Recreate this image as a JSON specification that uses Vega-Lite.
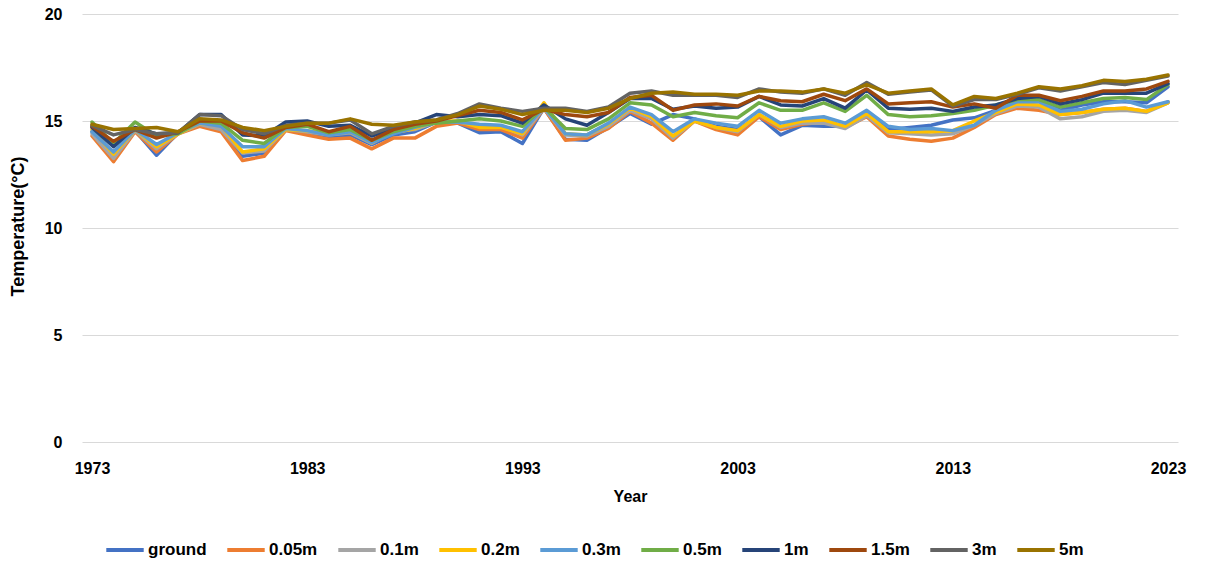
{
"$schema":"https://vega.github.io/schema/vega-lite/v6.json",
"width":1096,"height":428,
"autosize":{"type":"none"},
"padding":{"left":82,"top":14,"right":30,"bottom":137},
"background":"white",
"config":{"view":{"stroke":null},"font":"Liberation Sans"},
"data":{"values":[
{"Year":1973,"Depth":"ground","T":14.5},{"Year":1974,"Depth":"ground","T":13.35},{"Year":1975,"Depth":"ground","T":14.55},{"Year":1976,"Depth":"ground","T":13.4},{"Year":1977,"Depth":"ground","T":14.45},{"Year":1978,"Depth":"ground","T":14.8},{"Year":1979,"Depth":"ground","T":14.7},{"Year":1980,"Depth":"ground","T":13.35},{"Year":1981,"Depth":"ground","T":13.5},{"Year":1982,"Depth":"ground","T":14.6},{"Year":1983,"Depth":"ground","T":14.5},{"Year":1984,"Depth":"ground","T":14.25},{"Year":1985,"Depth":"ground","T":14.35},{"Year":1986,"Depth":"ground","T":13.9},{"Year":1987,"Depth":"ground","T":14.35},{"Year":1988,"Depth":"ground","T":14.5},{"Year":1989,"Depth":"ground","T":14.95},{"Year":1990,"Depth":"ground","T":14.9},{"Year":1991,"Depth":"ground","T":14.45},{"Year":1992,"Depth":"ground","T":14.5},{"Year":1993,"Depth":"ground","T":13.95},{"Year":1994,"Depth":"ground","T":15.6},{"Year":1995,"Depth":"ground","T":14.15},{"Year":1996,"Depth":"ground","T":14.1},{"Year":1997,"Depth":"ground","T":14.7},{"Year":1998,"Depth":"ground","T":15.35},{"Year":1999,"Depth":"ground","T":14.85},{"Year":2000,"Depth":"ground","T":15.3},{"Year":2001,"Depth":"ground","T":15.1},{"Year":2002,"Depth":"ground","T":14.75},{"Year":2003,"Depth":"ground","T":14.6},{"Year":2004,"Depth":"ground","T":15.2},{"Year":2005,"Depth":"ground","T":14.35},{"Year":2006,"Depth":"ground","T":14.8},{"Year":2007,"Depth":"ground","T":14.75},{"Year":2008,"Depth":"ground","T":14.75},{"Year":2009,"Depth":"ground","T":15.35},{"Year":2010,"Depth":"ground","T":14.6},{"Year":2011,"Depth":"ground","T":14.7},{"Year":2012,"Depth":"ground","T":14.8},{"Year":2013,"Depth":"ground","T":15.05},{"Year":2014,"Depth":"ground","T":15.15},{"Year":2015,"Depth":"ground","T":15.5},{"Year":2016,"Depth":"ground","T":16.0},{"Year":2017,"Depth":"ground","T":16.0},{"Year":2018,"Depth":"ground","T":15.5},{"Year":2019,"Depth":"ground","T":15.75},{"Year":2020,"Depth":"ground","T":15.9},{"Year":2021,"Depth":"ground","T":15.9},{"Year":2022,"Depth":"ground","T":15.85},{"Year":2023,"Depth":"ground","T":16.6},
{"Year":1973,"Depth":"0.05m","T":14.3},{"Year":1974,"Depth":"0.05m","T":13.1},{"Year":1975,"Depth":"0.05m","T":14.5},{"Year":1976,"Depth":"0.05m","T":13.55},{"Year":1977,"Depth":"0.05m","T":14.4},{"Year":1978,"Depth":"0.05m","T":14.75},{"Year":1979,"Depth":"0.05m","T":14.5},{"Year":1980,"Depth":"0.05m","T":13.15},{"Year":1981,"Depth":"0.05m","T":13.35},{"Year":1982,"Depth":"0.05m","T":14.55},{"Year":1983,"Depth":"0.05m","T":14.35},{"Year":1984,"Depth":"0.05m","T":14.15},{"Year":1985,"Depth":"0.05m","T":14.2},{"Year":1986,"Depth":"0.05m","T":13.7},{"Year":1987,"Depth":"0.05m","T":14.2},{"Year":1988,"Depth":"0.05m","T":14.2},{"Year":1989,"Depth":"0.05m","T":14.75},{"Year":1990,"Depth":"0.05m","T":14.9},{"Year":1991,"Depth":"0.05m","T":14.6},{"Year":1992,"Depth":"0.05m","T":14.6},{"Year":1993,"Depth":"0.05m","T":14.2},{"Year":1994,"Depth":"0.05m","T":15.6},{"Year":1995,"Depth":"0.05m","T":14.1},{"Year":1996,"Depth":"0.05m","T":14.2},{"Year":1997,"Depth":"0.05m","T":14.65},{"Year":1998,"Depth":"0.05m","T":15.45},{"Year":1999,"Depth":"0.05m","T":14.9},{"Year":2000,"Depth":"0.05m","T":14.1},{"Year":2001,"Depth":"0.05m","T":15.0},{"Year":2002,"Depth":"0.05m","T":14.6},{"Year":2003,"Depth":"0.05m","T":14.35},{"Year":2004,"Depth":"0.05m","T":15.2},{"Year":2005,"Depth":"0.05m","T":14.6},{"Year":2006,"Depth":"0.05m","T":14.85},{"Year":2007,"Depth":"0.05m","T":14.95},{"Year":2008,"Depth":"0.05m","T":14.7},{"Year":2009,"Depth":"0.05m","T":15.2},{"Year":2010,"Depth":"0.05m","T":14.3},{"Year":2011,"Depth":"0.05m","T":14.15},{"Year":2012,"Depth":"0.05m","T":14.05},{"Year":2013,"Depth":"0.05m","T":14.2},{"Year":2014,"Depth":"0.05m","T":14.7},{"Year":2015,"Depth":"0.05m","T":15.3},{"Year":2016,"Depth":"0.05m","T":15.6},{"Year":2017,"Depth":"0.05m","T":15.5},{"Year":2018,"Depth":"0.05m","T":15.3},{"Year":2019,"Depth":"0.05m","T":15.4},{"Year":2020,"Depth":"0.05m","T":15.55},{"Year":2021,"Depth":"0.05m","T":15.6},{"Year":2022,"Depth":"0.05m","T":15.45},{"Year":2023,"Depth":"0.05m","T":15.9},
{"Year":1973,"Depth":"0.1m","T":14.4},{"Year":1974,"Depth":"0.1m","T":13.25},{"Year":1975,"Depth":"0.1m","T":14.55},{"Year":1976,"Depth":"0.1m","T":13.7},{"Year":1977,"Depth":"0.1m","T":14.4},{"Year":1978,"Depth":"0.1m","T":14.85},{"Year":1979,"Depth":"0.1m","T":14.6},{"Year":1980,"Depth":"0.1m","T":13.5},{"Year":1981,"Depth":"0.1m","T":13.6},{"Year":1982,"Depth":"0.1m","T":14.6},{"Year":1983,"Depth":"0.1m","T":14.5},{"Year":1984,"Depth":"0.1m","T":14.35},{"Year":1985,"Depth":"0.1m","T":14.45},{"Year":1986,"Depth":"0.1m","T":13.95},{"Year":1987,"Depth":"0.1m","T":14.5},{"Year":1988,"Depth":"0.1m","T":14.6},{"Year":1989,"Depth":"0.1m","T":14.95},{"Year":1990,"Depth":"0.1m","T":14.95},{"Year":1991,"Depth":"0.1m","T":14.8},{"Year":1992,"Depth":"0.1m","T":14.75},{"Year":1993,"Depth":"0.1m","T":14.35},{"Year":1994,"Depth":"0.1m","T":15.6},{"Year":1995,"Depth":"0.1m","T":14.35},{"Year":1996,"Depth":"0.1m","T":14.3},{"Year":1997,"Depth":"0.1m","T":14.75},{"Year":1998,"Depth":"0.1m","T":15.5},{"Year":1999,"Depth":"0.1m","T":15.1},{"Year":2000,"Depth":"0.1m","T":14.2},{"Year":2001,"Depth":"0.1m","T":15.0},{"Year":2002,"Depth":"0.1m","T":14.7},{"Year":2003,"Depth":"0.1m","T":14.5},{"Year":2004,"Depth":"0.1m","T":15.3},{"Year":2005,"Depth":"0.1m","T":14.7},{"Year":2006,"Depth":"0.1m","T":14.9},{"Year":2007,"Depth":"0.1m","T":14.9},{"Year":2008,"Depth":"0.1m","T":14.65},{"Year":2009,"Depth":"0.1m","T":15.25},{"Year":2010,"Depth":"0.1m","T":14.45},{"Year":2011,"Depth":"0.1m","T":14.4},{"Year":2012,"Depth":"0.1m","T":14.35},{"Year":2013,"Depth":"0.1m","T":14.4},{"Year":2014,"Depth":"0.1m","T":14.8},{"Year":2015,"Depth":"0.1m","T":15.35},{"Year":2016,"Depth":"0.1m","T":15.7},{"Year":2017,"Depth":"0.1m","T":15.65},{"Year":2018,"Depth":"0.1m","T":15.1},{"Year":2019,"Depth":"0.1m","T":15.2},{"Year":2020,"Depth":"0.1m","T":15.45},{"Year":2021,"Depth":"0.1m","T":15.5},{"Year":2022,"Depth":"0.1m","T":15.4},{"Year":2023,"Depth":"0.1m","T":15.85},
{"Year":1973,"Depth":"0.2m","T":14.6},{"Year":1974,"Depth":"0.2m","T":13.45},{"Year":1975,"Depth":"0.2m","T":14.6},{"Year":1976,"Depth":"0.2m","T":13.8},{"Year":1977,"Depth":"0.2m","T":14.4},{"Year":1978,"Depth":"0.2m","T":14.9},{"Year":1979,"Depth":"0.2m","T":14.8},{"Year":1980,"Depth":"0.2m","T":13.55},{"Year":1981,"Depth":"0.2m","T":13.7},{"Year":1982,"Depth":"0.2m","T":14.6},{"Year":1983,"Depth":"0.2m","T":14.55},{"Year":1984,"Depth":"0.2m","T":14.4},{"Year":1985,"Depth":"0.2m","T":14.5},{"Year":1986,"Depth":"0.2m","T":14.0},{"Year":1987,"Depth":"0.2m","T":14.45},{"Year":1988,"Depth":"0.2m","T":14.65},{"Year":1989,"Depth":"0.2m","T":15.0},{"Year":1990,"Depth":"0.2m","T":15.0},{"Year":1991,"Depth":"0.2m","T":14.7},{"Year":1992,"Depth":"0.2m","T":14.7},{"Year":1993,"Depth":"0.2m","T":14.4},{"Year":1994,"Depth":"0.2m","T":15.85},{"Year":1995,"Depth":"0.2m","T":14.4},{"Year":1996,"Depth":"0.2m","T":14.35},{"Year":1997,"Depth":"0.2m","T":14.85},{"Year":1998,"Depth":"0.2m","T":15.6},{"Year":1999,"Depth":"0.2m","T":15.2},{"Year":2000,"Depth":"0.2m","T":14.3},{"Year":2001,"Depth":"0.2m","T":15.0},{"Year":2002,"Depth":"0.2m","T":14.7},{"Year":2003,"Depth":"0.2m","T":14.55},{"Year":2004,"Depth":"0.2m","T":15.3},{"Year":2005,"Depth":"0.2m","T":14.75},{"Year":2006,"Depth":"0.2m","T":15.0},{"Year":2007,"Depth":"0.2m","T":15.05},{"Year":2008,"Depth":"0.2m","T":14.75},{"Year":2009,"Depth":"0.2m","T":15.35},{"Year":2010,"Depth":"0.2m","T":14.5},{"Year":2011,"Depth":"0.2m","T":14.5},{"Year":2012,"Depth":"0.2m","T":14.5},{"Year":2013,"Depth":"0.2m","T":14.55},{"Year":2014,"Depth":"0.2m","T":15.0},{"Year":2015,"Depth":"0.2m","T":15.4},{"Year":2016,"Depth":"0.2m","T":15.8},{"Year":2017,"Depth":"0.2m","T":15.75},{"Year":2018,"Depth":"0.2m","T":15.3},{"Year":2019,"Depth":"0.2m","T":15.4},{"Year":2020,"Depth":"0.2m","T":15.55},{"Year":2021,"Depth":"0.2m","T":15.6},{"Year":2022,"Depth":"0.2m","T":15.45},{"Year":2023,"Depth":"0.2m","T":15.85},
{"Year":1973,"Depth":"0.3m","T":14.5},{"Year":1974,"Depth":"0.3m","T":13.55},{"Year":1975,"Depth":"0.3m","T":14.6},{"Year":1976,"Depth":"0.3m","T":13.9},{"Year":1977,"Depth":"0.3m","T":14.45},{"Year":1978,"Depth":"0.3m","T":14.9},{"Year":1979,"Depth":"0.3m","T":14.75},{"Year":1980,"Depth":"0.3m","T":13.8},{"Year":1981,"Depth":"0.3m","T":13.8},{"Year":1982,"Depth":"0.3m","T":14.65},{"Year":1983,"Depth":"0.3m","T":14.55},{"Year":1984,"Depth":"0.3m","T":14.35},{"Year":1985,"Depth":"0.3m","T":14.5},{"Year":1986,"Depth":"0.3m","T":14.0},{"Year":1987,"Depth":"0.3m","T":14.4},{"Year":1988,"Depth":"0.3m","T":14.7},{"Year":1989,"Depth":"0.3m","T":14.95},{"Year":1990,"Depth":"0.3m","T":14.95},{"Year":1991,"Depth":"0.3m","T":14.85},{"Year":1992,"Depth":"0.3m","T":14.8},{"Year":1993,"Depth":"0.3m","T":14.5},{"Year":1994,"Depth":"0.3m","T":15.65},{"Year":1995,"Depth":"0.3m","T":14.4},{"Year":1996,"Depth":"0.3m","T":14.35},{"Year":1997,"Depth":"0.3m","T":14.9},{"Year":1998,"Depth":"0.3m","T":15.65},{"Year":1999,"Depth":"0.3m","T":15.3},{"Year":2000,"Depth":"0.3m","T":14.5},{"Year":2001,"Depth":"0.3m","T":15.1},{"Year":2002,"Depth":"0.3m","T":14.9},{"Year":2003,"Depth":"0.3m","T":14.75},{"Year":2004,"Depth":"0.3m","T":15.5},{"Year":2005,"Depth":"0.3m","T":14.9},{"Year":2006,"Depth":"0.3m","T":15.1},{"Year":2007,"Depth":"0.3m","T":15.2},{"Year":2008,"Depth":"0.3m","T":14.9},{"Year":2009,"Depth":"0.3m","T":15.5},{"Year":2010,"Depth":"0.3m","T":14.75},{"Year":2011,"Depth":"0.3m","T":14.6},{"Year":2012,"Depth":"0.3m","T":14.65},{"Year":2013,"Depth":"0.3m","T":14.55},{"Year":2014,"Depth":"0.3m","T":14.8},{"Year":2015,"Depth":"0.3m","T":15.5},{"Year":2016,"Depth":"0.3m","T":15.9},{"Year":2017,"Depth":"0.3m","T":15.9},{"Year":2018,"Depth":"0.3m","T":15.45},{"Year":2019,"Depth":"0.3m","T":15.55},{"Year":2020,"Depth":"0.3m","T":15.8},{"Year":2021,"Depth":"0.3m","T":15.95},{"Year":2022,"Depth":"0.3m","T":15.65},{"Year":2023,"Depth":"0.3m","T":15.9},
{"Year":1973,"Depth":"0.5m","T":14.95},{"Year":1974,"Depth":"0.5m","T":13.95},{"Year":1975,"Depth":"0.5m","T":14.95},{"Year":1976,"Depth":"0.5m","T":14.3},{"Year":1977,"Depth":"0.5m","T":14.4},{"Year":1978,"Depth":"0.5m","T":15.0},{"Year":1979,"Depth":"0.5m","T":14.9},{"Year":1980,"Depth":"0.5m","T":14.1},{"Year":1981,"Depth":"0.5m","T":13.95},{"Year":1982,"Depth":"0.5m","T":14.7},{"Year":1983,"Depth":"0.5m","T":14.75},{"Year":1984,"Depth":"0.5m","T":14.45},{"Year":1985,"Depth":"0.5m","T":14.6},{"Year":1986,"Depth":"0.5m","T":14.1},{"Year":1987,"Depth":"0.5m","T":14.5},{"Year":1988,"Depth":"0.5m","T":14.75},{"Year":1989,"Depth":"0.5m","T":14.9},{"Year":1990,"Depth":"0.5m","T":15.0},{"Year":1991,"Depth":"0.5m","T":15.1},{"Year":1992,"Depth":"0.5m","T":15.0},{"Year":1993,"Depth":"0.5m","T":14.75},{"Year":1994,"Depth":"0.5m","T":15.65},{"Year":1995,"Depth":"0.5m","T":14.65},{"Year":1996,"Depth":"0.5m","T":14.6},{"Year":1997,"Depth":"0.5m","T":15.1},{"Year":1998,"Depth":"0.5m","T":15.85},{"Year":1999,"Depth":"0.5m","T":15.75},{"Year":2000,"Depth":"0.5m","T":15.2},{"Year":2001,"Depth":"0.5m","T":15.4},{"Year":2002,"Depth":"0.5m","T":15.25},{"Year":2003,"Depth":"0.5m","T":15.15},{"Year":2004,"Depth":"0.5m","T":15.85},{"Year":2005,"Depth":"0.5m","T":15.5},{"Year":2006,"Depth":"0.5m","T":15.5},{"Year":2007,"Depth":"0.5m","T":15.85},{"Year":2008,"Depth":"0.5m","T":15.45},{"Year":2009,"Depth":"0.5m","T":16.2},{"Year":2010,"Depth":"0.5m","T":15.3},{"Year":2011,"Depth":"0.5m","T":15.2},{"Year":2012,"Depth":"0.5m","T":15.25},{"Year":2013,"Depth":"0.5m","T":15.35},{"Year":2014,"Depth":"0.5m","T":15.5},{"Year":2015,"Depth":"0.5m","T":15.75},{"Year":2016,"Depth":"0.5m","T":16.0},{"Year":2017,"Depth":"0.5m","T":16.0},{"Year":2018,"Depth":"0.5m","T":15.65},{"Year":2019,"Depth":"0.5m","T":15.85},{"Year":2020,"Depth":"0.5m","T":16.05},{"Year":2021,"Depth":"0.5m","T":16.1},{"Year":2022,"Depth":"0.5m","T":16.0},{"Year":2023,"Depth":"0.5m","T":16.7},
{"Year":1973,"Depth":"1m","T":14.7},{"Year":1974,"Depth":"1m","T":13.8},{"Year":1975,"Depth":"1m","T":14.7},{"Year":1976,"Depth":"1m","T":14.4},{"Year":1977,"Depth":"1m","T":14.45},{"Year":1978,"Depth":"1m","T":15.3},{"Year":1979,"Depth":"1m","T":15.3},{"Year":1980,"Depth":"1m","T":14.35},{"Year":1981,"Depth":"1m","T":14.3},{"Year":1982,"Depth":"1m","T":14.95},{"Year":1983,"Depth":"1m","T":15.0},{"Year":1984,"Depth":"1m","T":14.75},{"Year":1985,"Depth":"1m","T":14.8},{"Year":1986,"Depth":"1m","T":14.3},{"Year":1987,"Depth":"1m","T":14.65},{"Year":1988,"Depth":"1m","T":14.9},{"Year":1989,"Depth":"1m","T":15.3},{"Year":1990,"Depth":"1m","T":15.2},{"Year":1991,"Depth":"1m","T":15.3},{"Year":1992,"Depth":"1m","T":15.25},{"Year":1993,"Depth":"1m","T":14.9},{"Year":1994,"Depth":"1m","T":15.75},{"Year":1995,"Depth":"1m","T":15.1},{"Year":1996,"Depth":"1m","T":14.8},{"Year":1997,"Depth":"1m","T":15.4},{"Year":1998,"Depth":"1m","T":16.05},{"Year":1999,"Depth":"1m","T":16.05},{"Year":2000,"Depth":"1m","T":15.55},{"Year":2001,"Depth":"1m","T":15.7},{"Year":2002,"Depth":"1m","T":15.6},{"Year":2003,"Depth":"1m","T":15.65},{"Year":2004,"Depth":"1m","T":16.15},{"Year":2005,"Depth":"1m","T":15.75},{"Year":2006,"Depth":"1m","T":15.7},{"Year":2007,"Depth":"1m","T":16.05},{"Year":2008,"Depth":"1m","T":15.6},{"Year":2009,"Depth":"1m","T":16.45},{"Year":2010,"Depth":"1m","T":15.6},{"Year":2011,"Depth":"1m","T":15.55},{"Year":2012,"Depth":"1m","T":15.6},{"Year":2013,"Depth":"1m","T":15.45},{"Year":2014,"Depth":"1m","T":15.65},{"Year":2015,"Depth":"1m","T":15.75},{"Year":2016,"Depth":"1m","T":16.05},{"Year":2017,"Depth":"1m","T":16.15},{"Year":2018,"Depth":"1m","T":15.8},{"Year":2019,"Depth":"1m","T":16.0},{"Year":2020,"Depth":"1m","T":16.3},{"Year":2021,"Depth":"1m","T":16.3},{"Year":2022,"Depth":"1m","T":16.3},{"Year":2023,"Depth":"1m","T":16.75},
{"Year":1973,"Depth":"1.5m","T":14.75},{"Year":1974,"Depth":"1.5m","T":14.05},{"Year":1975,"Depth":"1.5m","T":14.6},{"Year":1976,"Depth":"1.5m","T":14.2},{"Year":1977,"Depth":"1.5m","T":14.5},{"Year":1978,"Depth":"1.5m","T":15.0},{"Year":1979,"Depth":"1.5m","T":15.0},{"Year":1980,"Depth":"1.5m","T":14.45},{"Year":1981,"Depth":"1.5m","T":14.2},{"Year":1982,"Depth":"1.5m","T":14.7},{"Year":1983,"Depth":"1.5m","T":14.85},{"Year":1984,"Depth":"1.5m","T":14.5},{"Year":1985,"Depth":"1.5m","T":14.75},{"Year":1986,"Depth":"1.5m","T":14.1},{"Year":1987,"Depth":"1.5m","T":14.6},{"Year":1988,"Depth":"1.5m","T":14.85},{"Year":1989,"Depth":"1.5m","T":15.0},{"Year":1990,"Depth":"1.5m","T":15.25},{"Year":1991,"Depth":"1.5m","T":15.5},{"Year":1992,"Depth":"1.5m","T":15.4},{"Year":1993,"Depth":"1.5m","T":15.05},{"Year":1994,"Depth":"1.5m","T":15.55},{"Year":1995,"Depth":"1.5m","T":15.3},{"Year":1996,"Depth":"1.5m","T":15.2},{"Year":1997,"Depth":"1.5m","T":15.4},{"Year":1998,"Depth":"1.5m","T":16.1},{"Year":1999,"Depth":"1.5m","T":16.2},{"Year":2000,"Depth":"1.5m","T":15.5},{"Year":2001,"Depth":"1.5m","T":15.75},{"Year":2002,"Depth":"1.5m","T":15.8},{"Year":2003,"Depth":"1.5m","T":15.7},{"Year":2004,"Depth":"1.5m","T":16.15},{"Year":2005,"Depth":"1.5m","T":15.95},{"Year":2006,"Depth":"1.5m","T":15.9},{"Year":2007,"Depth":"1.5m","T":16.25},{"Year":2008,"Depth":"1.5m","T":15.95},{"Year":2009,"Depth":"1.5m","T":16.5},{"Year":2010,"Depth":"1.5m","T":15.8},{"Year":2011,"Depth":"1.5m","T":15.85},{"Year":2012,"Depth":"1.5m","T":15.9},{"Year":2013,"Depth":"1.5m","T":15.65},{"Year":2014,"Depth":"1.5m","T":15.8},{"Year":2015,"Depth":"1.5m","T":15.6},{"Year":2016,"Depth":"1.5m","T":16.2},{"Year":2017,"Depth":"1.5m","T":16.2},{"Year":2018,"Depth":"1.5m","T":15.95},{"Year":2019,"Depth":"1.5m","T":16.15},{"Year":2020,"Depth":"1.5m","T":16.4},{"Year":2021,"Depth":"1.5m","T":16.4},{"Year":2022,"Depth":"1.5m","T":16.5},{"Year":2023,"Depth":"1.5m","T":16.85},
{"Year":1973,"Depth":"3m","T":14.8},{"Year":1974,"Depth":"3m","T":14.35},{"Year":1975,"Depth":"3m","T":14.6},{"Year":1976,"Depth":"3m","T":14.4},{"Year":1977,"Depth":"3m","T":14.45},{"Year":1978,"Depth":"3m","T":15.3},{"Year":1979,"Depth":"3m","T":15.25},{"Year":1980,"Depth":"3m","T":14.6},{"Year":1981,"Depth":"3m","T":14.4},{"Year":1982,"Depth":"3m","T":14.8},{"Year":1983,"Depth":"3m","T":14.9},{"Year":1984,"Depth":"3m","T":14.9},{"Year":1985,"Depth":"3m","T":15.05},{"Year":1986,"Depth":"3m","T":14.4},{"Year":1987,"Depth":"3m","T":14.75},{"Year":1988,"Depth":"3m","T":14.95},{"Year":1989,"Depth":"3m","T":15.05},{"Year":1990,"Depth":"3m","T":15.35},{"Year":1991,"Depth":"3m","T":15.8},{"Year":1992,"Depth":"3m","T":15.6},{"Year":1993,"Depth":"3m","T":15.45},{"Year":1994,"Depth":"3m","T":15.6},{"Year":1995,"Depth":"3m","T":15.6},{"Year":1996,"Depth":"3m","T":15.45},{"Year":1997,"Depth":"3m","T":15.65},{"Year":1998,"Depth":"3m","T":16.3},{"Year":1999,"Depth":"3m","T":16.4},{"Year":2000,"Depth":"3m","T":16.2},{"Year":2001,"Depth":"3m","T":16.2},{"Year":2002,"Depth":"3m","T":16.2},{"Year":2003,"Depth":"3m","T":16.1},{"Year":2004,"Depth":"3m","T":16.5},{"Year":2005,"Depth":"3m","T":16.35},{"Year":2006,"Depth":"3m","T":16.3},{"Year":2007,"Depth":"3m","T":16.5},{"Year":2008,"Depth":"3m","T":16.2},{"Year":2009,"Depth":"3m","T":16.8},{"Year":2010,"Depth":"3m","T":16.25},{"Year":2011,"Depth":"3m","T":16.35},{"Year":2012,"Depth":"3m","T":16.45},{"Year":2013,"Depth":"3m","T":15.7},{"Year":2014,"Depth":"3m","T":16.0},{"Year":2015,"Depth":"3m","T":16.0},{"Year":2016,"Depth":"3m","T":16.25},{"Year":2017,"Depth":"3m","T":16.55},{"Year":2018,"Depth":"3m","T":16.4},{"Year":2019,"Depth":"3m","T":16.6},{"Year":2020,"Depth":"3m","T":16.8},{"Year":2021,"Depth":"3m","T":16.7},{"Year":2022,"Depth":"3m","T":16.9},{"Year":2023,"Depth":"3m","T":17.1},
{"Year":1973,"Depth":"5m","T":14.85},{"Year":1974,"Depth":"5m","T":14.6},{"Year":1975,"Depth":"5m","T":14.65},{"Year":1976,"Depth":"5m","T":14.7},{"Year":1977,"Depth":"5m","T":14.5},{"Year":1978,"Depth":"5m","T":15.1},{"Year":1979,"Depth":"5m","T":15.05},{"Year":1980,"Depth":"5m","T":14.7},{"Year":1981,"Depth":"5m","T":14.55},{"Year":1982,"Depth":"5m","T":14.75},{"Year":1983,"Depth":"5m","T":14.9},{"Year":1984,"Depth":"5m","T":14.9},{"Year":1985,"Depth":"5m","T":15.1},{"Year":1986,"Depth":"5m","T":14.85},{"Year":1987,"Depth":"5m","T":14.8},{"Year":1988,"Depth":"5m","T":14.95},{"Year":1989,"Depth":"5m","T":15.05},{"Year":1990,"Depth":"5m","T":15.3},{"Year":1991,"Depth":"5m","T":15.7},{"Year":1992,"Depth":"5m","T":15.55},{"Year":1993,"Depth":"5m","T":15.3},{"Year":1994,"Depth":"5m","T":15.5},{"Year":1995,"Depth":"5m","T":15.5},{"Year":1996,"Depth":"5m","T":15.4},{"Year":1997,"Depth":"5m","T":15.6},{"Year":1998,"Depth":"5m","T":16.05},{"Year":1999,"Depth":"5m","T":16.3},{"Year":2000,"Depth":"5m","T":16.35},{"Year":2001,"Depth":"5m","T":16.25},{"Year":2002,"Depth":"5m","T":16.25},{"Year":2003,"Depth":"5m","T":16.2},{"Year":2004,"Depth":"5m","T":16.4},{"Year":2005,"Depth":"5m","T":16.4},{"Year":2006,"Depth":"5m","T":16.35},{"Year":2007,"Depth":"5m","T":16.5},{"Year":2008,"Depth":"5m","T":16.3},{"Year":2009,"Depth":"5m","T":16.7},{"Year":2010,"Depth":"5m","T":16.3},{"Year":2011,"Depth":"5m","T":16.4},{"Year":2012,"Depth":"5m","T":16.5},{"Year":2013,"Depth":"5m","T":15.75},{"Year":2014,"Depth":"5m","T":16.15},{"Year":2015,"Depth":"5m","T":16.05},{"Year":2016,"Depth":"5m","T":16.3},{"Year":2017,"Depth":"5m","T":16.6},{"Year":2018,"Depth":"5m","T":16.5},{"Year":2019,"Depth":"5m","T":16.65},{"Year":2020,"Depth":"5m","T":16.9},{"Year":2021,"Depth":"5m","T":16.85},{"Year":2022,"Depth":"5m","T":16.95},{"Year":2023,"Depth":"5m","T":17.15}
]},
"mark":{"type":"line","strokeWidth":3.5,"strokeJoin":"round","strokeCap":"round"},
"encoding":{
"x":{"field":"Year","type":"quantitative","scale":{"domain":[1972.535,2023.465],"nice":false,"zero":false},
"axis":{"values":[1973,1983,1993,2003,2013,2023],"format":"d","grid":false,"domain":false,"ticks":false,"labelFlush":false,"labelPadding":18,"labelFont":"Liberation Sans","labelFontSize":16,"labelFontWeight":"bold","labelColor":"#000000","title":"Year","titleFont":"Liberation Sans","titleFontSize":16,"titleFontWeight":"bold","titleColor":"#000000","titleY":54,"titleBaseline":"middle"}},
"y":{"field":"T","type":"quantitative","scale":{"domain":[0,20],"nice":false},
"axis":{"values":[0,5,10,15,20],"grid":true,"gridColor":"#D9D9D9","gridWidth":1,"domain":false,"ticks":false,"labelPadding":20,"labelFont":"Liberation Sans","labelFontSize":16,"labelFontWeight":"bold","labelColor":"#000000","title":"Temperature(°C)","titleFont":"Liberation Sans","titleFontSize":18,"titleFontWeight":"bold","titleColor":"#000000","titleX":-64,"titleY":212,"titleAngle":-90,"titleAlign":"center","titleBaseline":"middle"}},
"color":{"field":"Depth","type":"nominal",
"scale":{"domain":["ground","0.05m","0.1m","0.2m","0.3m","0.5m","1m","1.5m","3m","5m"],"range":["#4472C4","#ED7D31","#A5A5A5","#FFC000","#5B9BD5","#70AD47","#264478","#9E480E","#636363","#997300"]},
"legend":{"orient":"none","direction":"horizontal","legendX":22,"legendY":515,"title":null,"symbolType":"stroke","symbolSize":1400,"symbolStrokeWidth":4,"labelOffset":2,"columnPadding":12,"padding":0,"labelFont":"Liberation Sans","labelFontSize":17,"labelFontWeight":"bold","labelColor":"#000000"}}
}
}
